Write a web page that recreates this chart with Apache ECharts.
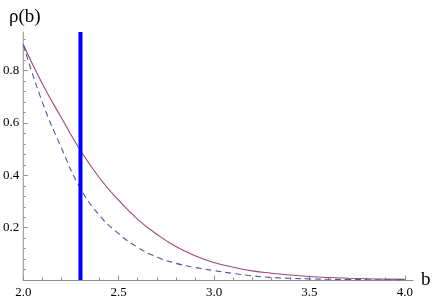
<!DOCTYPE html>
<html>
<head>
<meta charset="utf-8">
<script src="https://cdn.jsdelivr.net/npm/echarts@6/dist/echarts.min.js"></script>
<style>
html,body{margin:0;padding:0;background:#fff;}
#c{width:436px;height:300px;}
</style>
</head>
<body>
<div id="c"></div>
<script>
// Data
var bValues = [2.0, 2.1, 2.2, 2.3, 2.4, 2.5, 2.6, 2.7, 2.8, 2.9, 3.0, 3.1, 3.2, 3.3, 3.4, 3.5, 3.6, 3.7, 3.8, 3.9, 4.0];
var rhoSolid = [0.90, 0.75, 0.62, 0.495, 0.39, 0.305, 0.232, 0.175, 0.128, 0.093, 0.067, 0.049, 0.035, 0.026, 0.019, 0.0135, 0.0095, 0.0068, 0.0048, 0.0034, 0.0024];
var rhoDashed = [0.90, 0.68, 0.505, 0.35, 0.247, 0.177, 0.125, 0.088, 0.064, 0.048, 0.036, 0.025, 0.016, 0.010, 0.0065, 0.0042, 0.0028, 0.0018, 0.0012, 0.0008, 0.0005];
var markerB = 2.3;
var xMin = 2.0, xMax = 4.043;
var yMin = 0, yMax = 0.948;
var xMajorTicks = [2.0, 2.5, 3.0, 3.5, 4.0];
var xMinorTicks = [2.1, 2.2, 2.3, 2.4, 2.6, 2.7, 2.8, 2.9, 3.1, 3.2, 3.3, 3.4, 3.6, 3.7, 3.8, 3.9];
var yMajorTicks = [0.2, 0.4, 0.6, 0.8];
var yMinorTicks = [0.04, 0.08, 0.12, 0.16, 0.24, 0.28, 0.32, 0.36, 0.44, 0.48, 0.52, 0.56, 0.64, 0.68, 0.72, 0.76, 0.84, 0.88, 0.92];
var xName = 'b';
var yName = 'ρ(b)';

function zip(xs, ys) { return xs.map(function (x, i) { return [x, ys[i]]; }); }

var axisGray = '#8e8e8e';
var serif = 'Liberation Serif';

var chart = echarts.init(document.getElementById('c'));
chart.setOption({
  animation: false,
  backgroundColor: '#ffffff',
  textStyle: {fontFamily: serif},
  grid: {left: 20.7, right: 23, top: 32, bottom: 20, containLabel: false},
  title: {
    text: yName, left: 4, top: 3,
    textStyle: {fontFamily: serif, fontSize: 19, fontWeight: 'normal', color: '#000'}
  },
  xAxis: [{
    type: 'value', min: xMin, max: xMax,
    name: xName, nameLocation: 'end', nameGap: 8,
    nameTextStyle: {fontFamily: serif, fontSize: 19, color: '#000', verticalAlign: 'middle'},
    axisLine: {show: true, onZero: false, lineStyle: {color: axisGray, width: 1}},
    axisTick: {show: true, inside: true, length: 4.5, customValues: xMajorTicks, lineStyle: {color: axisGray}},
    axisLabel: {show: true, customValues: xMajorTicks, margin: 6, fontFamily: serif, fontSize: 13, color: '#000',
      formatter: function (v) { return v.toFixed(1); }},
    splitLine: {show: false}
  }, {
    type: 'value', min: xMin, max: xMax, position: 'bottom',
    axisLine: {show: false},
    axisTick: {show: true, inside: true, length: 2.5, customValues: xMinorTicks, lineStyle: {color: axisGray}},
    axisLabel: {show: false},
    splitLine: {show: false}
  }],
  yAxis: [{
    type: 'value', min: yMin, max: yMax,
    axisLine: {show: true, onZero: false, lineStyle: {color: axisGray, width: 1}},
    axisTick: {show: true, inside: true, length: 4.5, customValues: yMajorTicks, lineStyle: {color: axisGray}},
    axisLabel: {show: true, customValues: yMajorTicks, margin: 4, fontFamily: serif, fontSize: 13, color: '#000',
      formatter: function (v) { return v.toFixed(1); }},
    splitLine: {show: false}
  }, {
    type: 'value', min: yMin, max: yMax, position: 'left',
    axisLine: {show: false},
    axisTick: {show: true, inside: true, length: 2.5, customValues: yMinorTicks, lineStyle: {color: axisGray}},
    axisLabel: {show: false},
    splitLine: {show: false}
  }],
  series: [{
    type: 'line', data: zip(bValues, rhoSolid), smooth: true, showSymbol: false,
    lineStyle: {color: '#a0457a', width: 1.1}, z: 2
  }, {
    type: 'line', data: zip(bValues, rhoDashed), smooth: true, showSymbol: false,
    lineStyle: {color: '#5353ab', width: 1.1, type: [6, 4]}, z: 3
  }, {
    type: 'line', data: [[markerB, yMin], [markerB, yMax]], showSymbol: false,
    lineStyle: {color: '#0000ff', width: 4}, z: 4
  }]
});
</script>
</body>
</html>
